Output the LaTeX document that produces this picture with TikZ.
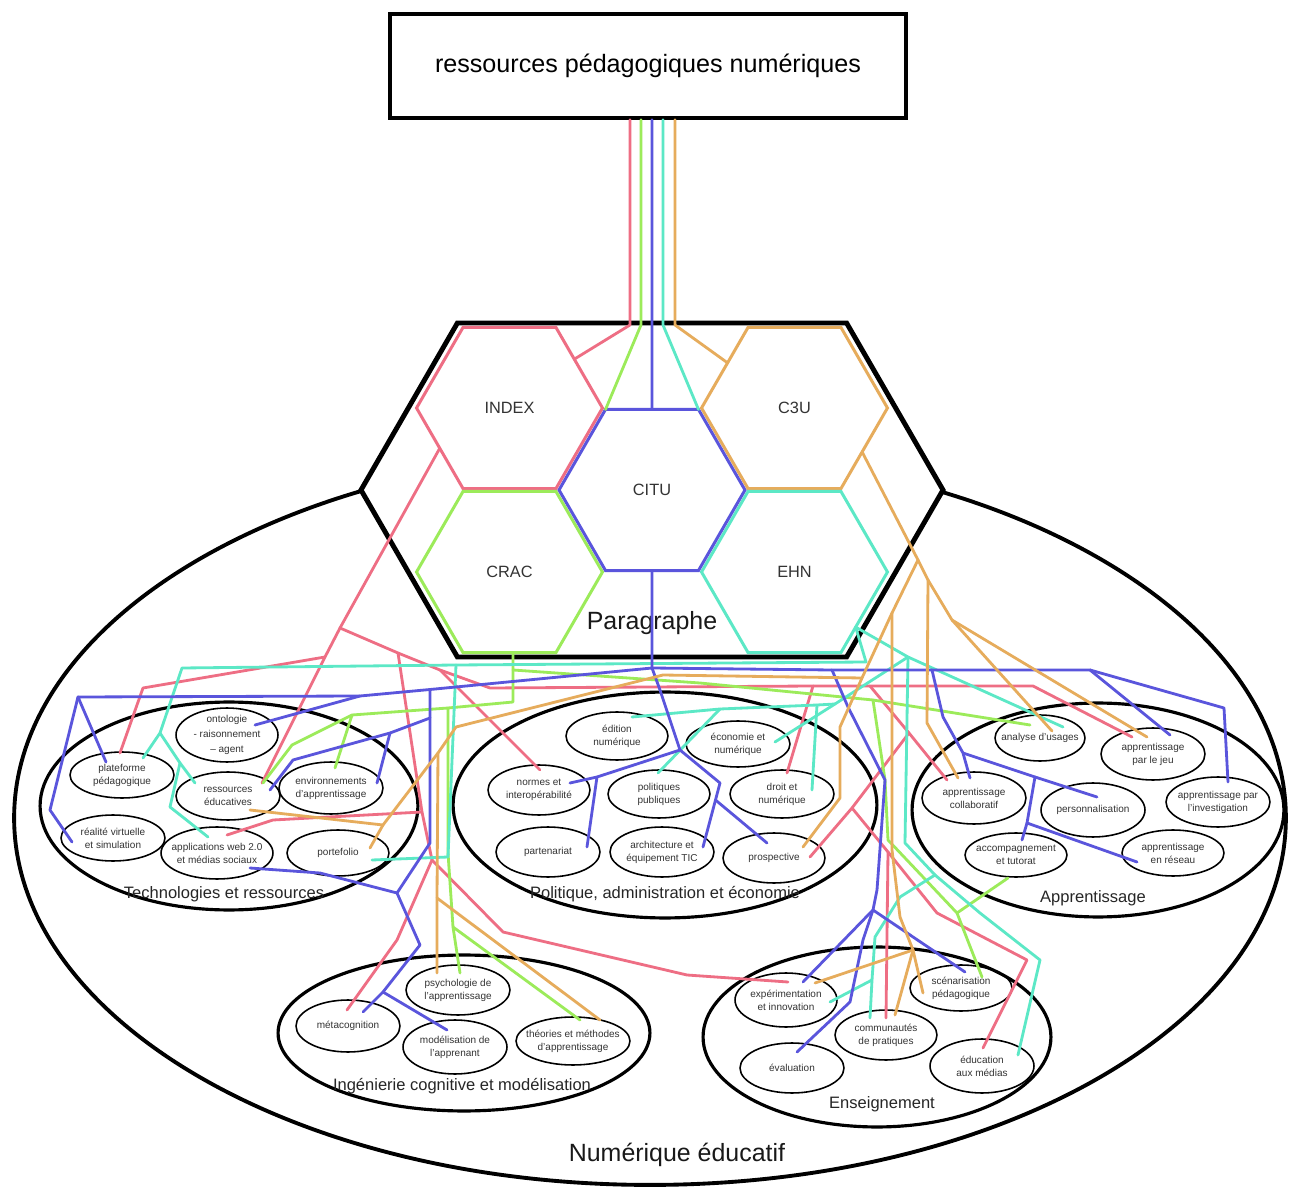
\documentclass[tikz,border=0pt]{standalone}
\usepackage{fontspec}
\setmainfont{Liberation Sans}
\usetikzlibrary{shapes.geometric}
\definecolor{cpk}{HTML}{EE6E84}
\definecolor{cgr}{HTML}{9CEB5A}
\definecolor{cbl}{HTML}{5A55DC}
\definecolor{ctl}{HTML}{5CE8C6}
\definecolor{cor}{HTML}{E6AC5C}
\begin{document}
\begin{tikzpicture}[x=0.02cm,y=-0.02cm,
  conn/.style={line width=1.6pt, line join=round, line cap=round},
  lpk/.style={conn, draw=cpk}, lgr/.style={conn, draw=cgr}, lbl/.style={conn, draw=cbl},
  ltl/.style={conn, draw=ctl}, lor/.style={conn, draw=cor},
  sell/.style 2 args={ellipse, draw=black, line width=0.9pt, inner sep=0pt, outer sep=0pt, minimum width=#1*0.04cm, minimum height=#2*0.04cm},
  rell/.style 2 args={ellipse, draw=black, line width=1.8pt, inner sep=0pt, outer sep=0pt, minimum width=#1*0.04cm, minimum height=#2*0.04cm},
  stx/.style={align=center, font=\fontsize{5.7}{7.4}\selectfont, text=black!80, inner sep=0pt},
  rtx/.style={font=\fontsize{9.4}{11}\selectfont, text=black!85, inner sep=0pt},
  btx/.style={font=\fontsize{14.2}{17}\selectfont, text=black!90, inner sep=0pt},
  hex/.style={regular polygon, regular polygon sides=6, minimum size=3.72cm, inner sep=0pt, outer sep=0pt, fill=white, line width=1.7pt, font=\fontsize{9.3}{11}\selectfont, text=black!80},
]
\fill[white] (0,0) rectangle (1289,1189);
\useasboundingbox (0,0) rectangle (1289,1189);

% outer ellipse
\node[ellipse, draw=black, line width=2.2pt, inner sep=0pt, outer sep=0pt, minimum width=25.44cm, minimum height=14.68cm] (outer) at (650,818) {};
\node[btx] (outer-t) at (677,1155) {Numérique éducatif};

% big hexagon
\draw[line width=2.8pt, fill=white, line join=miter] (361,490) -- (457.4,323) -- (846.6,323) -- (943,490) -- (846.6,657) -- (457.4,657) -- cycle;
\node[hex, draw=cpk] (idx) at (509.5,408) {INDEX};
\node[hex, draw=cor] (c3u) at (794.5,408) {C3U};
\node[hex, draw=cgr] (crac) at (509.5,572) {CRAC};
\node[hex, draw=ctl] (ehn) at (794.5,572) {EHN};
\node[hex, draw=cbl] (citu) at (652,490) {CITU};
\node[btx] (para) at (652,623) {Paragraphe};

% title
\node[draw=black, line width=2pt, minimum width=10.32cm, minimum height=2.08cm, inner sep=0pt, font=\fontsize{14.3}{17}\selectfont] (title) at (648,66) {ressources pédagogiques numériques};

% region ellipses
\node[rell={189}{104}] (tech) at (229,806) {};
\node[rtx] (tech-t) at (224,894) {Technologies et ressources};
\node[rell={212}{113}] (pol) at (665,805) {};
\node[rtx] (pol-t) at (665,894) {Politique, administration et économie};
\node[rell={186}{107}] (app) at (1098,810) {};
\node[rtx] (app-t) at (1093,898) {Apprentissage};
\node[rell={186}{78}] (ing) at (464,1033) {};
\node[rtx] (ing-t) at (462,1086) {Ingénierie cognitive et modélisation};
\node[rell={174}{90}] (ens) at (877,1037) {};
\node[rtx] (ens-t) at (882,1104) {Enseignement};

% small ellipses
\node[sell={51}{27}] (ont) at (227,735) {};
\node[stx, font=\fontsize{5.7}{8.6}\selectfont] (ont-t) at (ont) {ontologie\\- raisonnement\\-- agent};
\node[sell={52}{23}] (plat) at (122,775) {};
\node[stx] (plat-t) at (plat) {plateforme\\pédagogique};
\node[sell={52}{24}] (ress) at (228,796) {};
\node[stx] (ress-t) at (ress) {ressources\\éducatives};
\node[sell={52}{26}] (env) at (331,788) {};
\node[stx] (env-t) at (env) {environnements\\d'apprentissage};
\node[sell={52}{23}] (real) at (113,838) {};
\node[stx] (real-t) at (real) {réalité virtuelle\\et simulation};
\node[sell={56}{26}] (appw) at (217,853) {};
\node[stx] (appw-t) at (appw) {applications web 2.0\\et médias sociaux};
\node[sell={51}{23}] (port) at (338,853) {};
\node[stx] (port-t) at (port) {portefolio};

\node[sell={51}{24}] (edit) at (617,736) {};
\node[stx] (edit-t) at (edit) {édition\\numérique};
\node[sell={52}{23}] (eco) at (738,744) {};
\node[stx] (eco-t) at (eco) {économie et\\numérique};
\node[sell={51}{25}] (norm) at (539,790) {};
\node[stx] (norm-t) at (norm) {normes et\\interopérabilité};
\node[sell={51}{24}] (polp) at (659,794) {};
\node[stx] (polp-t) at (polp) {politiques\\publiques};
\node[sell={52}{24}] (droit) at (782,794) {};
\node[stx] (droit-t) at (droit) {droit et\\numérique};
\node[sell={52}{25}] (part) at (548,852) {};
\node[stx] (part-t) at (part) {partenariat};
\node[sell={52}{25}] (arch) at (662,852) {};
\node[stx] (arch-t) at (arch) {architecture et\\équipement TIC};
\node[sell={51}{25}] (prosp) at (774,858) {};
\node[stx] (prosp-t) at (prosp) {prospective};

\node[sell={45}{23}] (anal) at (1040,738) {};
\node[stx] (anal-t) at (anal) {analyse d'usages};
\node[sell={52}{26}] (jeu) at (1153,754) {};
\node[stx] (jeu-t) at (jeu) {apprentissage\\par le jeu};
\node[sell={52}{26}] (coll) at (974,798) {};
\node[stx] (coll-t) at (coll) {apprentissage\\collaboratif};
\node[sell={52}{27}] (pers) at (1093,810) {};
\node[stx] (pers-t) at (pers) {personnalisation};
\node[sell={52}{25}] (inv) at (1218,802) {};
\node[stx] (inv-t) at (inv) {apprentissage par\\l'investigation};
\node[sell={51}{22}] (acc) at (1016,855) {};
\node[stx] (acc-t) at (acc) {accompagnement\\et tutorat};
\node[sell={51}{23}] (res) at (1173,853) {};
\node[stx] (res-t) at (res) {apprentissage\\en réseau};

\node[sell={52}{26}] (meta) at (348,1026) {};
\node[stx] (meta-t) at (meta) {métacognition};
\node[sell={52}{25}] (psy) at (458,990) {};
\node[stx] (psy-t) at (psy) {psychologie de\\l'apprentissage};
\node[sell={52}{27}] (model) at (455,1047) {};
\node[stx] (model-t) at (model) {modélisation de\\l'apprenant};
\node[sell={57}{24}] (theo) at (573,1041) {};
\node[stx] (theo-t) at (theo) {théories et méthodes\\d'apprentissage};

\node[sell={51}{27}] (expe) at (786,1000) {};
\node[stx] (expe-t) at (expe) {expérimentation\\et innovation};
\node[sell={51}{23}] (scen) at (961,988) {};
\node[stx] (scen-t) at (scen) {scénarisation\\pédagogique};
\node[sell={51}{25}] (comm) at (886,1035) {};
\node[stx] (comm-t) at (comm) {communautés\\de pratiques};
\node[sell={52}{25}] (eval) at (792,1068) {};
\node[stx] (eval-t) at (eval) {évaluation};
\node[sell={52}{27}] (educ) at (982,1066) {};
\node[stx] (educ-t) at (educ) {éducation\\aux médias};

% junction coordinates
\coordinate (pJ1) at (340,628); \coordinate (pJ2) at (325,657); \coordinate (pJ3) at (398,653);
\coordinate (pJ4) at (440,670); \coordinate (pJ5) at (813,686); \coordinate (pJ6) at (870,686);
\coordinate (pJ7) at (422,812); \coordinate (pJ8) at (432,860); \coordinate (pJ9) at (909,733);
\coordinate (pJ10) at (852,808); \coordinate (pJ11) at (888,852);
\coordinate (gJ1) at (513,670); \coordinate (gJ2) at (513,702); \coordinate (gJ3) at (448,708);
\coordinate (gJ4) at (352,715); \coordinate (gJ5) at (453,927); \coordinate (gJ6) at (873,700);
\coordinate (gJ7) at (957,913);
\coordinate (tJ1) at (908,657); \coordinate (tJ2) at (835,704); \coordinate (tJ3) at (817,705);
\coordinate (tJ4) at (720,709); \coordinate (tJ5) at (935,875); \coordinate (tJ6) at (872,980);
\coordinate (tJ7) at (456,665); \coordinate (tJ8) at (160,733); \coordinate (tJ9) at (180,763);
\coordinate (bJ1) at (652,668); \coordinate (bJ2) at (680,750); \coordinate (bJ3) at (720,783);
\coordinate (bJ4) at (715.5,800); \coordinate (bJ5) at (597,777); \coordinate (bJ6) at (360,696);
\coordinate (bJ7) at (78,697); \coordinate (bJ8) at (430,689.5); \coordinate (bJ9) at (430,718);
\coordinate (bJ10) at (397,893); \coordinate (bJ11) at (383,992); \coordinate (bJ12) at (390,733);
\coordinate (bJ13) at (832,670); \coordinate (bJ14) at (932,670); \coordinate (bJ15) at (1090,670);
\coordinate (bJ16) at (873,910); \coordinate (bJ17) at (963,753); \coordinate (bJ18) at (1035,777);
\coordinate (bJ19) at (1027,823);
\coordinate (oJ1) at (918,560); \coordinate (oJ2) at (892,613); \coordinate (oJ3) at (862,678);
\coordinate (oJ4) at (456,727); \coordinate (oJ5) at (438,753); \coordinate (oJ6) at (383,825);
\coordinate (oJ7) at (437,898); \coordinate (oJ8) at (913,950); \coordinate (oJ9) at (928,580);
\coordinate (oJ10) at (952,620);

% end coordinates
\coordinate (pk-ress) at (262,783); \coordinate (pk-plat) at (120,753); \coordinate (pk-jeu) at (1132,737);
\coordinate (pk-norm) at (540,770); \coordinate (pk-appw) at (227,835); \coordinate (pk-meta) at (347,1010);
\coordinate (pk-expe) at (788,982); \coordinate (pk-droit) at (787,773); \coordinate (pk-coll) at (947,780);
\coordinate (pk-prosp) at (810,857); \coordinate (pk-comm) at (886,1018); \coordinate (pk-educ) at (983,1048);
\coordinate (gr-ress) at (263,783); \coordinate (gr-env) at (335,768); \coordinate (gr-psy) at (460,973);
\coordinate (gr-theo) at (580,1020); \coordinate (gr-anal) at (1030,725); \coordinate (gr-scen) at (982,977);
\coordinate (gr-acc) at (1008,878);
\coordinate (tl-anal) at (1063,727); \coordinate (tl-eco) at (775,742); \coordinate (tl-edit) at (632,717);
\coordinate (tl-droit) at (812,790); \coordinate (tl-polp) at (658,773); \coordinate (tl-comm) at (870,1018);
\coordinate (tl-expe) at (830,1002); \coordinate (tl-educ) at (1018,1055); \coordinate (tl-plat) at (143,758);
\coordinate (tl-ress) at (195,783); \coordinate (tl-appw) at (208,837); \coordinate (tl-port) at (372,860);
\coordinate (bl-arch) at (703,847); \coordinate (bl-prosp) at (767,843); \coordinate (bl-norm) at (570,783);
\coordinate (bl-part) at (587,847); \coordinate (bl-plat) at (106,762); \coordinate (bl-real) at (72,842);
\coordinate (bl-ont) at (255,725); \coordinate (bl-meta) at (363,1012); \coordinate (bl-model) at (447,1030);
\coordinate (bl-appw) at (250,868); \coordinate (bl-ress) at (270,790); \coordinate (bl-env) at (377,783);
\coordinate (bl-jeu) at (1170,735); \coordinate (bl-inv) at (1228,782); \coordinate (bl-expe) at (803,982);
\coordinate (bl-eval) at (797,1052); \coordinate (bl-scen) at (965,972); \coordinate (bl-coll) at (970,778);
\coordinate (bl-pers) at (1097,797); \coordinate (bl-acc) at (1022,840); \coordinate (bl-res) at (1137,862);
\coordinate (or-prosp) at (803,847); \coordinate (or-port) at (370,848); \coordinate (or-ress) at (250,810);
\coordinate (or-psy) at (437,973); \coordinate (or-theo) at (600,1020); \coordinate (or-expe) at (815,983);
\coordinate (or-scen) at (923,993); \coordinate (or-comm) at (895,1015); \coordinate (or-coll) at (958,778);
\coordinate (or-anal) at (1052,731); \coordinate (or-jeu) at (1147,737);

% ---- pink (INDEX)
\draw[lpk] ([xshift=-0.36cm]title.south) -- (630,325) -- (idx.37);
\draw[lpk] (idx.210) -- (pJ1) -- (pJ2) -- (pk-ress);
\draw[lpk] (pJ2) -- (143,688) -- (pk-plat);
\draw[lpk] (pJ1) -- (pJ3) -- (pJ4) -- (490,688) -- (pJ5) -- (pJ6) -- (1033,686) -- (pk-jeu);
\draw[lpk] (pJ4) -- (pk-norm);
\draw[lpk] (pJ3) -- (pJ7) -- (pJ8);
\draw[lpk] (pJ7) -- (273,820) -- (pk-appw);
\draw[lpk] (pJ8) -- (397,940) -- (pk-meta);
\draw[lpk] (pJ8) -- (503,932) -- (687,975) -- (pk-expe);
\draw[lpk] (pJ5) -- (pk-droit);
\draw[lpk] (pJ6) -- (pJ9) -- (pk-coll);
\draw[lpk] (pJ9) -- (pJ10) -- (pk-prosp);
\draw[lpk] (pJ10) -- (pJ11) -- (pk-comm);
\draw[lpk] (pJ11) -- (937,913) -- (1027,960) -- (pk-educ);

% ---- green (CRAC)
\draw[lgr] ([xshift=-0.14cm]title.south) -- (641,325) -- (citu.120);
\draw[lgr] (crac.south -| gJ1) -- (gJ1) -- (gJ2) -- (gJ3) -- (gJ4) -- (292,745) -- (gr-ress);
\draw[lgr] (gJ4) -- (gr-env);
\draw[lgr] (gJ3) -- (448,853) -- (gJ5) -- (gr-psy);
\draw[lgr] (gJ5) -- (gr-theo);
\draw[lgr] (gJ1) -- (700,683) -- (gJ6) -- (gr-anal);
\draw[lgr] (gJ6) -- (885,780) -- (888,840) -- (gJ7) -- (gr-scen);
\draw[lgr] (gJ7) -- (gr-acc);

% ---- teal (EHN)
\draw[ltl] ([xshift=0.3cm]title.south) -- (663,325) -- (citu.60);
\draw[ltl] (ehn.318) -- (tJ1) -- (tl-anal);
\draw[ltl] (tJ1) -- (tJ2) -- (tl-eco);
\draw[ltl] (tJ2) -- (tJ3) -- (tJ4) -- (tl-edit);
\draw[ltl] (tJ3) -- (tl-droit);
\draw[ltl] (tJ4) -- (tl-polp);
\draw[ltl] (tJ1) -- (905,843) -- (tJ5);
\draw[ltl] (tJ5) -- (900,897) -- (875,937) -- (tJ6) -- (tl-comm);
\draw[ltl] (tJ6) -- (tl-expe);
\draw[ltl] (tJ5) -- (980,913) -- (1040,960) -- (tl-educ);
\draw[ltl] (ehn.318) -- (866,662) -- (tJ7) -- (182,668) -- (tJ8) -- (tl-plat);
\draw[ltl] (tJ8) -- (tJ9) -- (tl-ress);
\draw[ltl] (tJ9) -- (170,807) -- (tl-appw);
\draw[ltl] (tJ7) -- (448,857) -- (tl-port);

% ---- blue (CITU)
\draw[lbl] ([xshift=0.08cm]title.south) -- (citu.north);
\draw[lbl] (citu.south) -- (bJ1) -- (660,690) -- (bJ2) -- (bJ3) -- (bJ4) -- (bl-arch);
\draw[lbl] (bJ4) -- (bl-prosp);
\draw[lbl] (bJ2) -- (bJ5) -- (bl-norm);
\draw[lbl] (bJ5) -- (bl-part);
\draw[lbl] (bJ1) -- (bJ8) -- (bJ6) -- (bJ7) -- (bl-plat);
\draw[lbl] (bJ7) -- (50,810) -- (bl-real);
\draw[lbl] (bJ6) -- (bl-ont);
\draw[lbl] (bJ8) -- (bJ9) -- (430,843) -- (bJ10) -- (420,945) -- (bJ11) -- (bl-meta);
\draw[lbl] (bJ11) -- (bl-model);
\draw[lbl] (bJ10) -- (320,873) -- (bl-appw);
\draw[lbl] (bJ9) -- (bJ12) -- (293,760) -- (bl-ress);
\draw[lbl] (bJ12) -- (bl-env);
\draw[lbl] (bJ1) -- (bJ13) -- (bJ14) -- (bJ15) -- (bl-jeu);
\draw[lbl] (bJ15) -- (1224,708) -- (bl-inv);
\draw[lbl] (bJ13) -- (848,707) -- (885,780) -- (877,890) -- (bJ16) -- (bl-expe);
\draw[lbl] (bJ16) -- (863,940) -- (850,1002) -- (bl-eval);
\draw[lbl] (bJ16) -- (bl-scen);
\draw[lbl] (bJ14) -- (943,717) -- (bJ17) -- (bl-coll);
\draw[lbl] (bJ17) -- (bJ18) -- (bl-pers);
\draw[lbl] (bJ18) -- (bJ19) -- (bl-acc);
\draw[lbl] (bJ19) -- (bl-res);

% ---- orange (C3U)
\draw[lor] ([xshift=0.54cm]title.south) -- (675,325) -- (c3u.146);
\draw[lor] (c3u.327) -- (oJ1) -- (oJ2) -- (oJ3) -- (840,727) -- (840,798) -- (or-prosp);
\draw[lor] (oJ3) -- (663,675) -- (oJ4) -- (oJ5) -- (oJ6) -- (or-port);
\draw[lor] (oJ6) -- (or-ress);
\draw[lor] (oJ5) -- (oJ7) -- (or-psy);
\draw[lor] (oJ7) -- (or-theo);
\draw[lor] (oJ2) -- (892,850) -- (900,917) -- (oJ8) -- (or-expe);
\draw[lor] (oJ8) -- (or-scen);
\draw[lor] (oJ8) -- (or-comm);
\draw[lor] (oJ1) -- (oJ9) -- (927,723) -- (or-coll);
\draw[lor] (oJ9) -- (oJ10) -- (or-anal);
\draw[lor] (oJ10) -- (or-jeu);
\end{tikzpicture}
\end{document}
